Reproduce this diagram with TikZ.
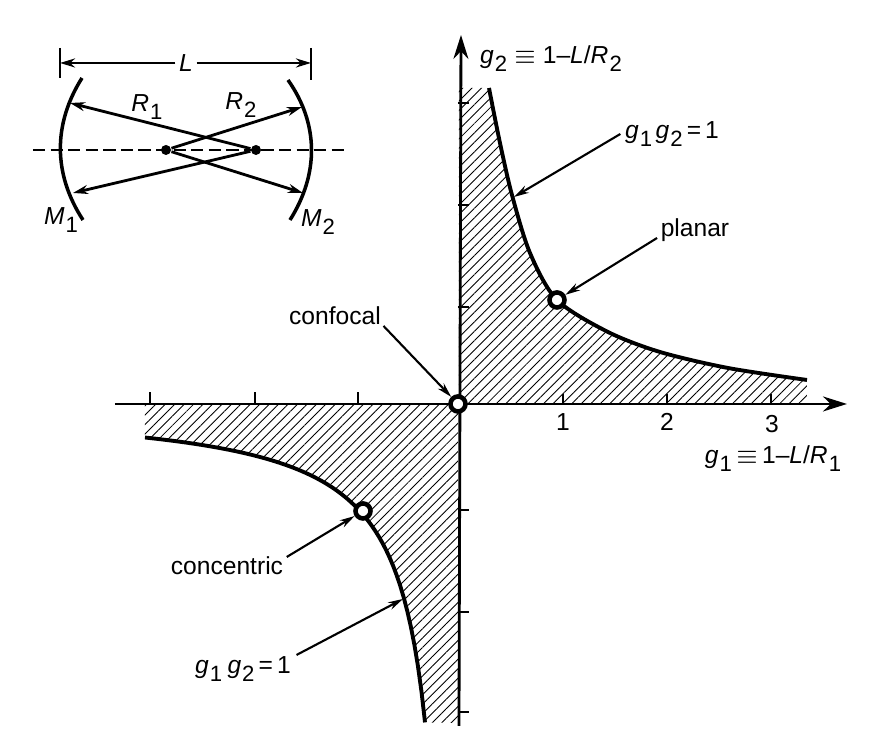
\documentclass[tikz,border=0pt]{standalone}
\usepackage{fontspec}
\setmainfont{Liberation Sans}
\usetikzlibrary{patterns.meta,arrows.meta}
\newcommand{\subvar}[2]{\textit{#1}\raisebox{-0.6ex}{\fontsize{6.3}{7}\selectfont\kern0.3pt #2}}
\tikzset{
	lab/.style={inner sep=0pt,font=\fontsize{7}{8}\selectfont},
	ring/.style={circle,draw,fill=white,line width=1.3pt,inner sep=0pt,minimum size=0.15cm},
	dotpt/.style={circle,fill,inner sep=0pt,minimum size=0.1cm},
	hatch/.style={pattern={Lines[angle=45,distance=1.9pt,line width=0.25pt]}},
	callout/.style={->,line width=0.6pt},
	raytip/.style={-{Stealth[length=0.15cm,width=0.09cm]},line width=0.8pt}
}
\begin{document}
\begin{tikzpicture}[>={Stealth[length=0.15cm,width=0.08cm]}]
	\useasboundingbox (-4.58,-3.45) rectangle (4.24,4.04);
	% hatched regions
	\fill [hatch] (0.01,0) -- (0.01,3.16) -- plot [smooth] coordinates {(0.31,3.16) (0.42,2.61) (0.54,2.09) (0.72,1.51) (0.99,1.04) (1.5,0.72) (2.02,0.52) (2.7,0.36) (3.49,0.24)} -- (3.49,0) -- cycle;
	\fill [hatch] (0,0) -- (-3.13,0) -- plot [domain=-3.13:-0.329, samples=80] (\x,{1.05/\x}) -- (0,-3.19) -- cycle;
	% axes
	\coordinate (xa) at (-3.43,0);
	\coordinate (xb) at (3.89,0);
	\coordinate (ya) at (0.01,-3.22);
	\coordinate (yb) at (0.03,3.69);
	\draw [line width=0.8pt, -{Stealth[length=0.24cm,width=0.15cm]}] (xa) -- (xb);
	\draw [line width=0.8pt, -{Stealth[length=0.24cm,width=0.15cm]}] (ya) -- (yb);
	% tick marks
	\foreach \t in {1.05,2.09,3.13} \draw [line width=0.5pt] (\t,0) -- (\t,0.1);
	\foreach \t in {1,2.03,3.08} \draw [line width=0.5pt] (-\t,0) -- (-\t,0.12);
	\foreach \t in {0.97,1.99,3.01} \draw [line width=0.5pt] (0,\t) -- (0.11,\t);
	\foreach \t in {1.06,2.08,3.08} \draw [line width=0.5pt] (0,-\t) -- (0.11,-\t);
	\node [lab] (one) at (1.05,-0.18) {1};
	\node [lab] (two) at (2.09,-0.18) {2};
	\node [lab] (three) at (3.14,-0.2) {3};
	% curve
	\draw [line width=1.1pt] plot [smooth] coordinates {(0.31,3.16) (0.42,2.61) (0.54,2.09) (0.72,1.51) (0.99,1.04) (1.5,0.72) (2.02,0.52) (2.7,0.36) (3.49,0.24)};
	\draw [line width=1.1pt, domain=-3.13:-0.329, samples=80] plot (\x,{1.05/\x});
	% mode points
	\node [ring] (planarpt) at (0.99,1.04) {};
	\node [ring] (confocalpt) at (0,0) {};
	\node [ring] (concentricpt) at (-0.95,-1.07) {};
	% labels of the plane
	\node [lab] (gtwo) at (0.93,3.45) {\subvar{g}{2} $\equiv$ 1--\textit{L}/\subvar{R}{2}};
	\node [lab] (gone) at (3.15,-0.55) {\subvar{g}{1}\,$\equiv$\,1--\textit{L}/\subvar{R}{1}};
	\node [lab] (hypa) at (2.14,2.7) {\subvar{g}{1}\kern1pt\subvar{g}{2}\,=\,1};
	\node [lab] (hypb) at (-2.15,-2.65) {\subvar{g}{1}\kern1.5pt\subvar{g}{2}\,=\,1};
	\node [lab] (planar) at (2.37,1.74) {planar};
	\node [lab] (confocal) at (-1.23,0.88) {confocal};
	\node [lab] (concentric) at (-2.31,-1.62) {concentric};
	\coordinate (hypatip) at (0.56,2.07);
	\coordinate (hypbtip) at (-0.55,-1.95);
	\draw [callout] (hypa.west) ++(-0.04,0) -- (hypatip);
	\draw [callout] (hypb.east) ++(0.05,0.14) -- (hypbtip);
	\draw [callout] (planar.west) ++(-0.03,-0.08) -- (planarpt);
	\draw [callout] (confocal.east) ++(0.02,-0.1) -- (confocalpt);
	\draw [callout] (concentric.east) ++(0.03,0.09) -- (concentricpt);
	% resonator
	\coordinate (la) at (-3.98,3.41);
	\coordinate (lb) at (-1.47,3.41);
	\draw [line width=0.5pt] (-3.98,3.56) -- (-3.98,3.26);
	\draw [line width=0.5pt] (-1.47,3.56) -- (-1.47,3.24);
	\node [lab] (len) at (-2.72,3.41) {\textit{L}};
	\draw [raytip] (len.west) ++(-0.03,0) -- (la);
	\draw [raytip] (len.east) ++(0.03,0) -- (lb);
	\draw [line width=1pt] (-3.76,3.26) .. controls (-4.05,2.8) and (-4.05,2.3) .. (-3.75,1.84);
	\draw [line width=1pt] (-1.7,3.24) .. controls (-1.39,2.8) and (-1.39,2.3) .. (-1.68,1.84);
	\coordinate (axl) at (-4.25,2.54);
	\coordinate (axr) at (-1.12,2.54);
	\draw [line width=0.8pt, dash pattern=on 3.5pt off 1.5pt] (axl) -- (axr);
	\node [dotpt] (ca) at (-2.92,2.54) {};
	\node [dotpt] (cb) at (-2.02,2.54) {};
	\coordinate (ma) at (-3.88,3.01);
	\coordinate (mb) at (-3.85,2.11);
	\coordinate (mc) at (-1.56,2.97);
	\coordinate (md) at (-1.55,2.11);
	\draw [raytip] (cb) -- (ma);
	\draw [raytip] (cb) -- (mb);
	\draw [raytip] (ca) -- (mc);
	\draw [raytip] (ca) -- (md);
	\node [lab] (rone) at (-3.11,2.97) {\subvar{R}{1}};
	\node [lab] (rtwo) at (-2.17,2.99) {\subvar{R}{2}};
	\node [lab] (mone) at (-3.97,1.84) {\subvar{M}{1}};
	\node [lab] (mtwo) at (-1.4,1.82) {\subvar{M}{2}};
\end{tikzpicture}
\end{document}
